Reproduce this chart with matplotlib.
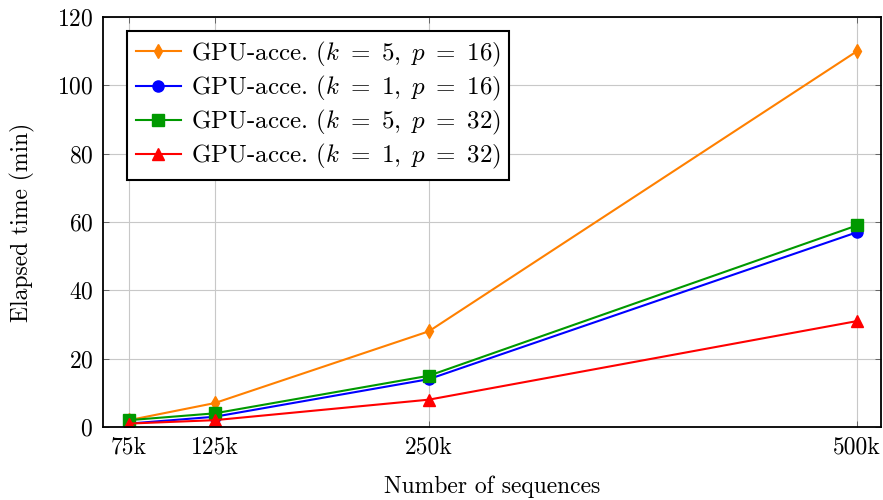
import matplotlib
matplotlib.use("Agg")
import matplotlib.pyplot as plt

plt.rcParams['font.family'] = ['cmr10', 'DejaVu Serif']
plt.rcParams['mathtext.fontset'] = 'cm'
plt.rcParams['axes.formatter.use_mathtext'] = True

x_values = [75, 125, 250, 500]
x_labels = ["75k", "125k", "250k", "500k"]
series_labels = [r"GPU-acce. ($k\ =\ 5,\;p\ =\ 16$)", r"GPU-acce. ($k\ =\ 1,\;p\ =\ 16$)",
                 r"GPU-acce. ($k\ =\ 5,\;p\ =\ 32$)", r"GPU-acce. ($k\ =\ 1,\;p\ =\ 32$)"]
k5_p16 = [2, 7, 28, 110]
k1_p16 = [1, 3, 14, 57]
k5_p32 = [2, 4, 15, 59]
k1_p32 = [1, 2, 8, 31]
y_ticks = [0, 20, 40, 60, 80, 100, 120]

series = [k5_p16, k1_p16, k5_p32, k1_p32]
colors = ["#ff8000", "#0000ff", "#009900", "#ff0000"]
markers = ["d", "o", "s", "^"]
msizes = [7, 8, 8, 8]

fig = plt.figure(figsize=(8.83, 5.0), dpi=100)
ax = fig.add_axes([103/883, 73/500, 778/883, 410/500])
for ys, lab, c, m, ms in zip(series, series_labels, colors, markers, msizes):
    ax.plot(x_values, ys, color=c, marker=m, markersize=ms, linewidth=1.5, label=lab)

ax.set_xlim(59.8, 514)
ax.set_ylim(0, 120)
ax.set_xticks(x_values)
ax.set_xticklabels(x_labels)
ax.set_yticks(y_ticks)
ax.grid(True, color="#c8c8c8", linewidth=0.8)
ax.set_axisbelow(True)
ax.tick_params(direction="in", labelsize=17, length=4, width=0.6, color="#555555",
               top=True, right=True, pad=7)
for s in ax.spines.values():
    s.set_linewidth(1.3)
ax.set_xlabel("Number of sequences", fontsize=17, labelpad=12)
ax.set_ylabel("Elapsed time (min)", fontsize=17, labelpad=16)
leg = ax.legend(loc="upper left", bbox_to_anchor=(0.031, 0.966), fontsize=18,
                frameon=True, fancybox=False, edgecolor="black", framealpha=1,
                handlelength=1.8, borderpad=0.35, labelspacing=0.2, handletextpad=0.4,
                borderaxespad=0)
leg.get_frame().set_linewidth(1.5)
fig.savefig("out.png", dpi=100)
